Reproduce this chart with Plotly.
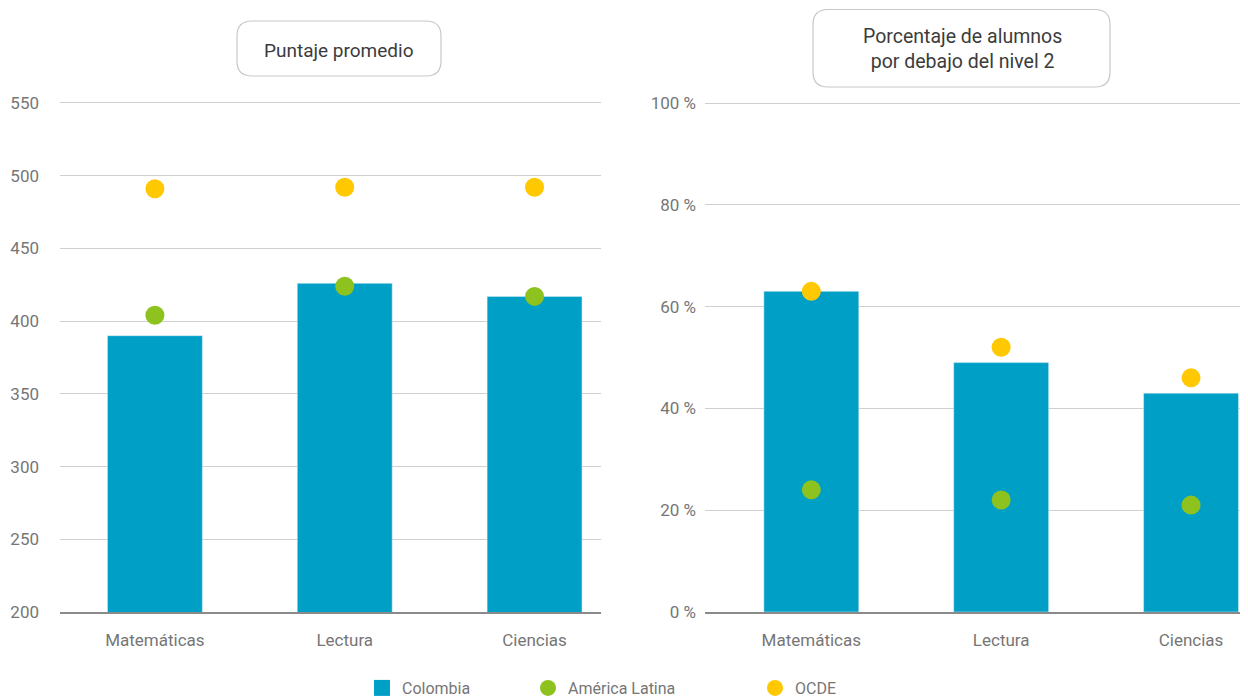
import plotly.graph_objects as go

# The page is shown with an 8px body margin; we lay things out in page pixels.
OFF = 8
FW, FH = 1240, 720

categories = ["Matemáticas", "Lectura", "Ciencias"]
# Panel 1: Puntaje promedio
colombia_score = [390, 426, 417]
latam_score = [404, 424, 417]
ocde_score = [491, 492, 492]
# Panel 2: Porcentaje de alumnos por debajo del nivel 2
colombia_pct = [63, 49, 43]
latam_pct = [24, 22, 21]
ocde_pct = [63, 52, 46]

score_ticks = [200, 250, 300, 350, 400, 450, 500, 550]
pct_ticks = [0, 20, 40, 60, 80, 100]
pct_ticktext = [f"{v} %" for v in pct_ticks]

C_COL = "#00A0C6"
C_LAT = "#8DC21F"
C_OCDE = "#FFC800"
FONT = "Roboto"
GRAY = "#767676"


def fx(x):
    return (x - OFF) / FW


def fy(y):
    return 1 - (y - OFF) / FH


fig = go.Figure()

# Left panel
fig.add_trace(go.Bar(x=categories, y=colombia_score, marker_color=C_COL, width=0.5,
                     name="Colombia", xaxis="x", yaxis="y", showlegend=False))
fig.add_trace(go.Scatter(x=categories, y=latam_score, mode="markers",
                         marker=dict(color=C_LAT, size=19), name="América Latina",
                         xaxis="x", yaxis="y", legend="legend2"))
fig.add_trace(go.Scatter(x=categories, y=ocde_score, mode="markers",
                         marker=dict(color=C_OCDE, size=19), name="OCDE",
                         xaxis="x", yaxis="y", legend="legend3"))
# Legend entry for Colombia (square swatch)
fig.add_trace(go.Scatter(x=[None], y=[None], mode="markers",
                         marker=dict(color=C_COL, size=18, symbol="square"),
                         name="Colombia", xaxis="x", yaxis="y", legend="legend"))
# Right panel
fig.add_trace(go.Bar(x=categories, y=colombia_pct, marker_color=C_COL, width=0.5,
                     name="Colombia", xaxis="x2", yaxis="y2", showlegend=False))
fig.add_trace(go.Scatter(x=categories, y=latam_pct, mode="markers",
                         marker=dict(color=C_LAT, size=19), name="América Latina",
                         xaxis="x2", yaxis="y2", showlegend=False))
fig.add_trace(go.Scatter(x=categories, y=ocde_pct, mode="markers",
                         marker=dict(color=C_OCDE, size=19), name="OCDE",
                         xaxis="x2", yaxis="y2", showlegend=False))

ydom = [fy(612), fy(101.5)]
tickfont = dict(family=FONT, size=17, color=GRAY)

common_x = dict(type="category", showgrid=False, showline=True, linecolor="#8a8a8a",
                linewidth=2, ticks="", tickfont=tickfont, fixedrange=True,
                automargin=False, ticklabelstandoff=12)
common_y = dict(showgrid=True, gridcolor="#d0d0d0", gridwidth=1, zeroline=False,
                showline=False, ticks="", tickfont=tickfont, fixedrange=True,
                automargin=False)

legfont = dict(family=FONT, size=16, color=GRAY)


def leg(xpage):
    return dict(x=fx(xpage), y=fy(688), yanchor="middle", xanchor="left",
                font=legfont, bgcolor="rgba(0,0,0,0)", borderwidth=0)


fig.update_layout(
    width=FW, height=FH,
    margin=dict(l=0, r=0, t=0, b=0),
    plot_bgcolor="white", paper_bgcolor="white",
    font=dict(family=FONT, color=GRAY),
    xaxis=dict(common_x, domain=[fx(60), fx(601)], range=[-0.5, 2.35], anchor="y"),
    yaxis=dict(common_y, domain=ydom, range=[200, 551], tickvals=score_ticks,
               anchor="x", ticklabelstandoff=20),
    xaxis2=dict(common_x, domain=[fx(705), 1.0], range=[-0.56, 2.3], anchor="y2"),
    yaxis2=dict(common_y, domain=ydom, range=[0, 100.3], tickvals=pct_ticks,
                ticktext=pct_ticktext, anchor="x2", ticklabelstandoff=8),
    legend=leg(362),
    legend2=leg(528),
    legend3=leg(755),
    showlegend=True,
)


def rounded_rect(x0, y0, x1, y1, r):
    def P(x, y):
        return f"{fx(x):.5f},{fy(y):.5f}"
    return (f"M {P(x0 + r, y0)} L {P(x1 - r, y0)} Q {P(x1, y0)} {P(x1, y0 + r)} "
            f"L {P(x1, y1 - r)} Q {P(x1, y1)} {P(x1 - r, y1)} "
            f"L {P(x0 + r, y1)} Q {P(x0, y1)} {P(x0, y1 - r)} "
            f"L {P(x0, y0 + r)} Q {P(x0, y0)} {P(x0 + r, y0)} Z")


for (x0, y0, x1, y1) in [(237, 21, 441, 76), (813, 9.5, 1110, 87)]:
    fig.add_shape(type="path", path=rounded_rect(x0, y0, x1, y1, 15),
                  xref="paper", yref="paper", line=dict(color="#c8c8c8", width=1.2),
                  fillcolor="rgba(255,255,255,0)", layer="above")

fig.add_annotation(x=fx(339), y=fy(50), xref="paper", yref="paper",
                   xanchor="center", yanchor="middle",
                   text="Puntaje promedio", showarrow=False,
                   font=dict(family=FONT, size=19, color="#3c3c3c"))
fig.add_annotation(x=fx(962), y=fy(49), xref="paper", yref="paper",
                   xanchor="center", yanchor="middle",
                   text="Porcentaje de alumnos<br>por debajo del nivel 2", showarrow=False,
                   font=dict(family=FONT, size=19.5, color="#3c3c3c"))

fig.write_html("out.html")
